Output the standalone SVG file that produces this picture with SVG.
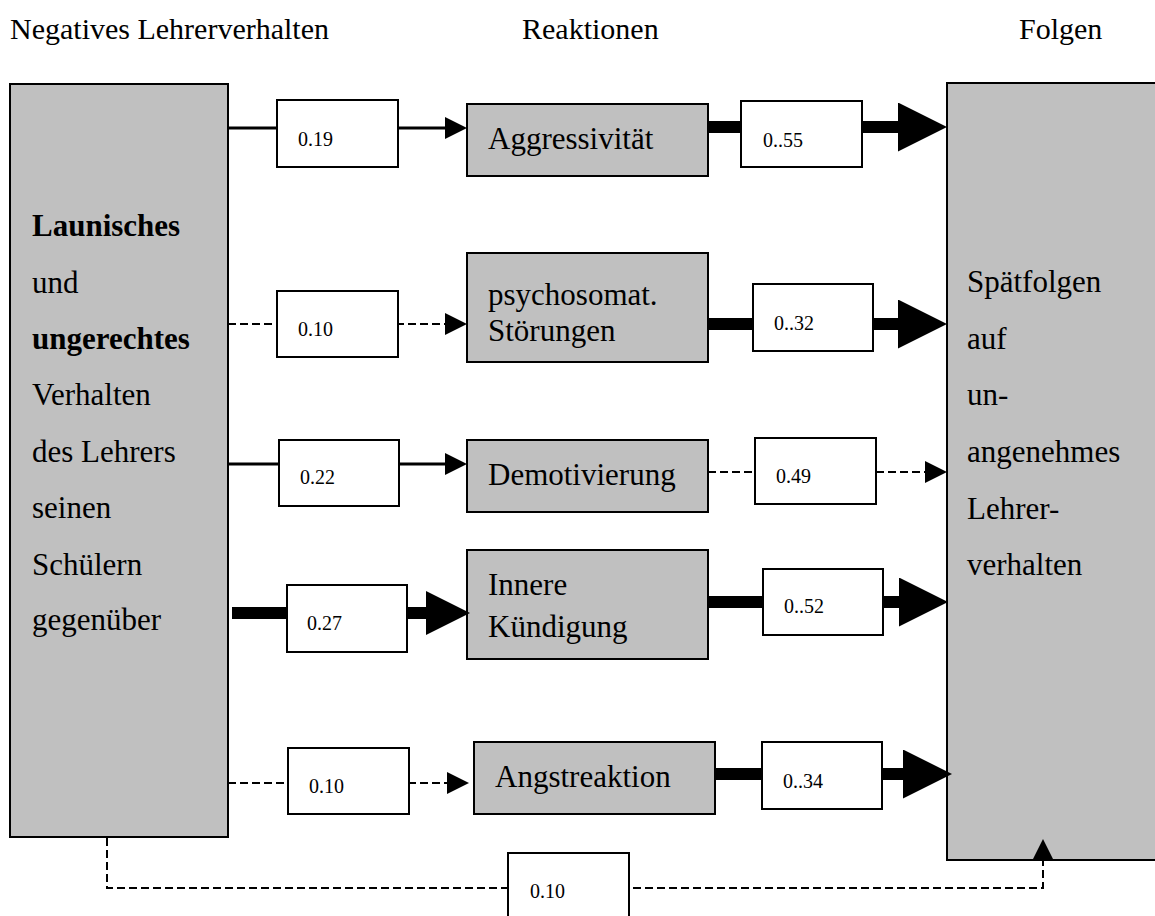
<svg xmlns="http://www.w3.org/2000/svg" width="1155" height="916" viewBox="0 0 1155 916">
<style>
text{font-family:"Liberation Serif","Times New Roman",serif;fill:#000}
.hd{font-size:30px}
.big{font-size:31px}
.lbl{font-size:20px}
.b{font-weight:bold}
.gbox{fill:#c0c0c0;stroke:#000;stroke-width:2}
.wbox{fill:#fff;stroke:#000;stroke-width:2}
.thin{fill:none;stroke:#000;stroke-width:3}
.dash{fill:none;stroke:#000;stroke-width:2;stroke-dasharray:8 4}
.thick{fill:none;stroke:#000;stroke-width:12}
</style>
<defs>
<marker id="sm" markerUnits="userSpaceOnUse" markerWidth="22" markerHeight="22" viewBox="0 0 22 22" refX="0" refY="11" orient="auto"><path d="M0,0 L22,11 L0,22 z" fill="#000"/></marker>
<marker id="md" markerUnits="userSpaceOnUse" markerWidth="44" markerHeight="44" viewBox="0 0 44 44" refX="0" refY="22" orient="auto"><path d="M0,0 L44,22 L0,44 z" fill="#000"/></marker>
<marker id="lg" markerUnits="userSpaceOnUse" markerWidth="49" markerHeight="49" viewBox="0 0 49 49" refX="0" refY="24.5" orient="auto"><path d="M0,0 L49,24.5 L0,49 z" fill="#000"/></marker>
</defs>

<g id="headers">
<text class="hd" x="10" y="39">Negatives Lehrerverhalten</text>
<text class="hd" x="522" y="39">Reaktionen</text>
<text class="hd" x="1019" y="39">Folgen</text>
</g>

<g id="node-left">
<rect class="gbox" x="10" y="84" width="218" height="753"/>
<text class="big" x="32"><tspan class="b" x="32" y="236">Launisches</tspan><tspan x="32" y="293">und</tspan><tspan class="b" x="32" y="349">ungerechtes</tspan><tspan x="32" y="405">Verhalten</tspan><tspan x="32" y="462">des Lehrers</tspan><tspan x="32" y="518">seinen</tspan><tspan x="32" y="575">Schülern</tspan><tspan x="32" y="630">gegenüber</tspan></text>
</g>

<g id="node-right">
<rect class="gbox" x="947" y="83" width="220" height="777"/>
<text class="big"><tspan x="967" y="292">Spätfolgen</tspan><tspan x="967" y="349">auf</tspan><tspan x="967" y="405">un-</tspan><tspan x="967" y="462">angenehmes</tspan><tspan x="967" y="519">Lehrer-</tspan><tspan x="967" y="575">verhalten</tspan></text>
</g>

<g id="node-aggressivitaet">
<rect class="gbox" x="467" y="104" width="241" height="72"/>
<text class="big" x="488" y="149">Aggressivität</text>
</g>
<g id="node-psychosomat">
<rect class="gbox" x="467" y="253" width="241" height="109"/>
<text class="big"><tspan x="488" y="305">psychosomat.</tspan><tspan x="488" y="341">Störungen</tspan></text>
</g>
<g id="node-demotivierung">
<rect class="gbox" x="467" y="440" width="241" height="72"/>
<text class="big" x="488" y="485">Demotivierung</text>
</g>
<g id="node-innere">
<rect class="gbox" x="467" y="550" width="241" height="109"/>
<text class="big"><tspan x="488" y="595">Innere</tspan><tspan x="488" y="637">Kündigung</tspan></text>
</g>
<g id="node-angst">
<rect class="gbox" x="474" y="742" width="241" height="72"/>
<text class="big" x="495" y="787">Angstreaktion</text>
</g>

<g id="connectors">
<path class="thin" d="M228,128 H445" marker-end="url(#sm)"/>
<path class="thick" d="M708,127 H898" marker-end="url(#lg)"/>
<path class="dash" d="M228,324 H445" marker-end="url(#sm)"/>
<path class="thick" d="M708,324 H898" marker-end="url(#lg)"/>
<path class="thin" d="M228,464 H445" marker-end="url(#sm)"/>
<path class="dash" d="M708,472 H925" marker-end="url(#sm)"/>
<path class="thick" d="M232,613 H426" marker-end="url(#md)"/>
<path class="thick" d="M708,602 H899" marker-end="url(#lg)"/>
<path class="dash" d="M228,783 H447" marker-end="url(#sm)"/>
<path class="thick" d="M715,774 H903" marker-end="url(#lg)"/>
<path class="dash" d="M107,838 V888 H1043 V861" marker-end="url(#sm)"/>
</g>

<g id="label-019"><rect class="wbox" x="277" y="100" width="121" height="67"/><text class="lbl" x="298" y="146">0.19</text></g>
<g id="label-055"><rect class="wbox" x="741" y="101" width="121" height="66"/><text class="lbl" x="763" y="147">0..55</text></g>
<g id="label-010a"><rect class="wbox" x="277" y="291" width="121" height="66"/><text class="lbl" x="298" y="336">0.10</text></g>
<g id="label-032"><rect class="wbox" x="753" y="284" width="120" height="67"/><text class="lbl" x="774" y="330">0..32</text></g>
<g id="label-022"><rect class="wbox" x="279" y="440" width="120" height="66"/><text class="lbl" x="300" y="484">0.22</text></g>
<g id="label-049"><rect class="wbox" x="755" y="438" width="121" height="66"/><text class="lbl" x="776" y="483">0.49</text></g>
<g id="label-027"><rect class="wbox" x="287" y="585" width="120" height="67"/><text class="lbl" x="307" y="630">0.27</text></g>
<g id="label-052"><rect class="wbox" x="763" y="569" width="120" height="66"/><text class="lbl" x="784" y="613">0..52</text></g>
<g id="label-010b"><rect class="wbox" x="288" y="748" width="121" height="66"/><text class="lbl" x="309" y="793">0.10</text></g>
<g id="label-034"><rect class="wbox" x="762" y="742" width="120" height="67"/><text class="lbl" x="783" y="788">0..34</text></g>
<g id="label-010c"><rect class="wbox" x="508" y="853" width="121" height="70"/><text class="lbl" x="530" y="898">0.10</text></g>
</svg>
